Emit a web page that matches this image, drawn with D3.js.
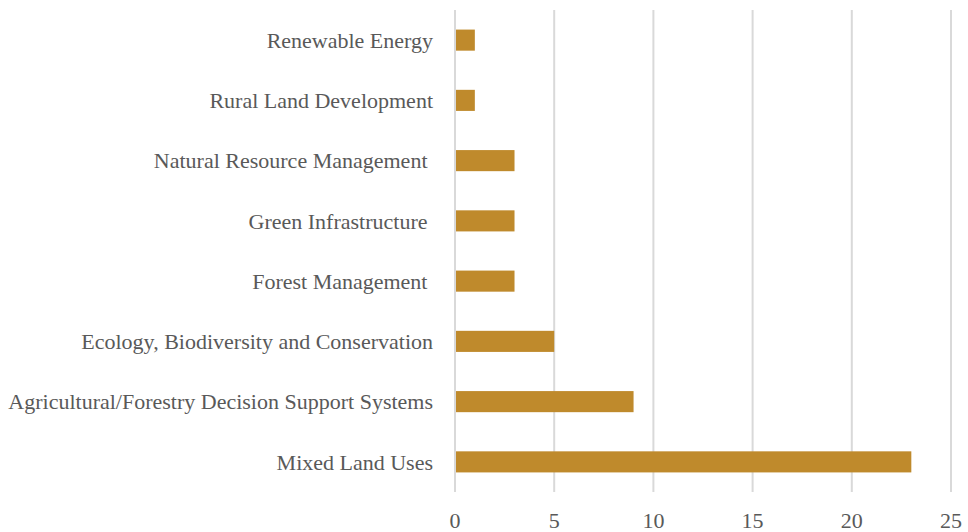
<!DOCTYPE html>
<html><head><meta charset="utf-8">
<script src="https://cdn.jsdelivr.net/npm/d3@7"></script>
<style>body{margin:0;background:#fff}text{white-space:pre}</style>
</head><body>
<svg id="c" width="968" height="532"></svg>
<script>
const categories = ["Renewable Energy","Rural Land Development","Natural Resource Management ","Green Infrastructure ","Forest Management ","Ecology, Biodiversity and Conservation","Agricultural/Forestry Decision Support Systems","Mixed Land Uses"];
const values = [1,1,3,3,3,5,9,23];
const xTicks = [0,5,10,15,20,25];

const svg = d3.select("#c");
const x = d3.scaleLinear().domain([0,25]).range([455,951]);
const y = d3.scaleBand().domain(categories).range([10,492]).paddingInner(0.65).paddingOuter(0.325);
const font = "'Liberation Serif','Times New Roman',serif";

svg.append("g").selectAll("line").data(xTicks).join("line")
  .attr("x1",d=>x(d)).attr("x2",d=>x(d)).attr("y1",10).attr("y2",492)
  .attr("stroke","#d9d9d9").attr("stroke-width",2);

svg.append("g").selectAll("rect").data(values).join("rect")
  .attr("x",x(0)+1).attr("y",(d,i)=>y(categories[i]))
  .attr("width",d=>x(d)-x(0)-1).attr("height",y.bandwidth())
  .attr("fill","#bf8a2c");

svg.append("g").selectAll("text").data(categories).join("text")
  .attr("x",433).attr("y",d=>y(d)+y.bandwidth()/2).attr("dy","0.35em")
  .attr("text-anchor","end").attr("font-family",font).attr("font-size",22)
  .attr("fill","#595959").text(d=>d);

svg.append("g").selectAll("text").data(xTicks).join("text")
  .attr("x",d=>x(d)).attr("y",520).attr("dy","0.35em")
  .attr("text-anchor","middle").attr("font-family",font).attr("font-size",22)
  .attr("fill","#595959").text(d=>d);
</script>
</body></html>
